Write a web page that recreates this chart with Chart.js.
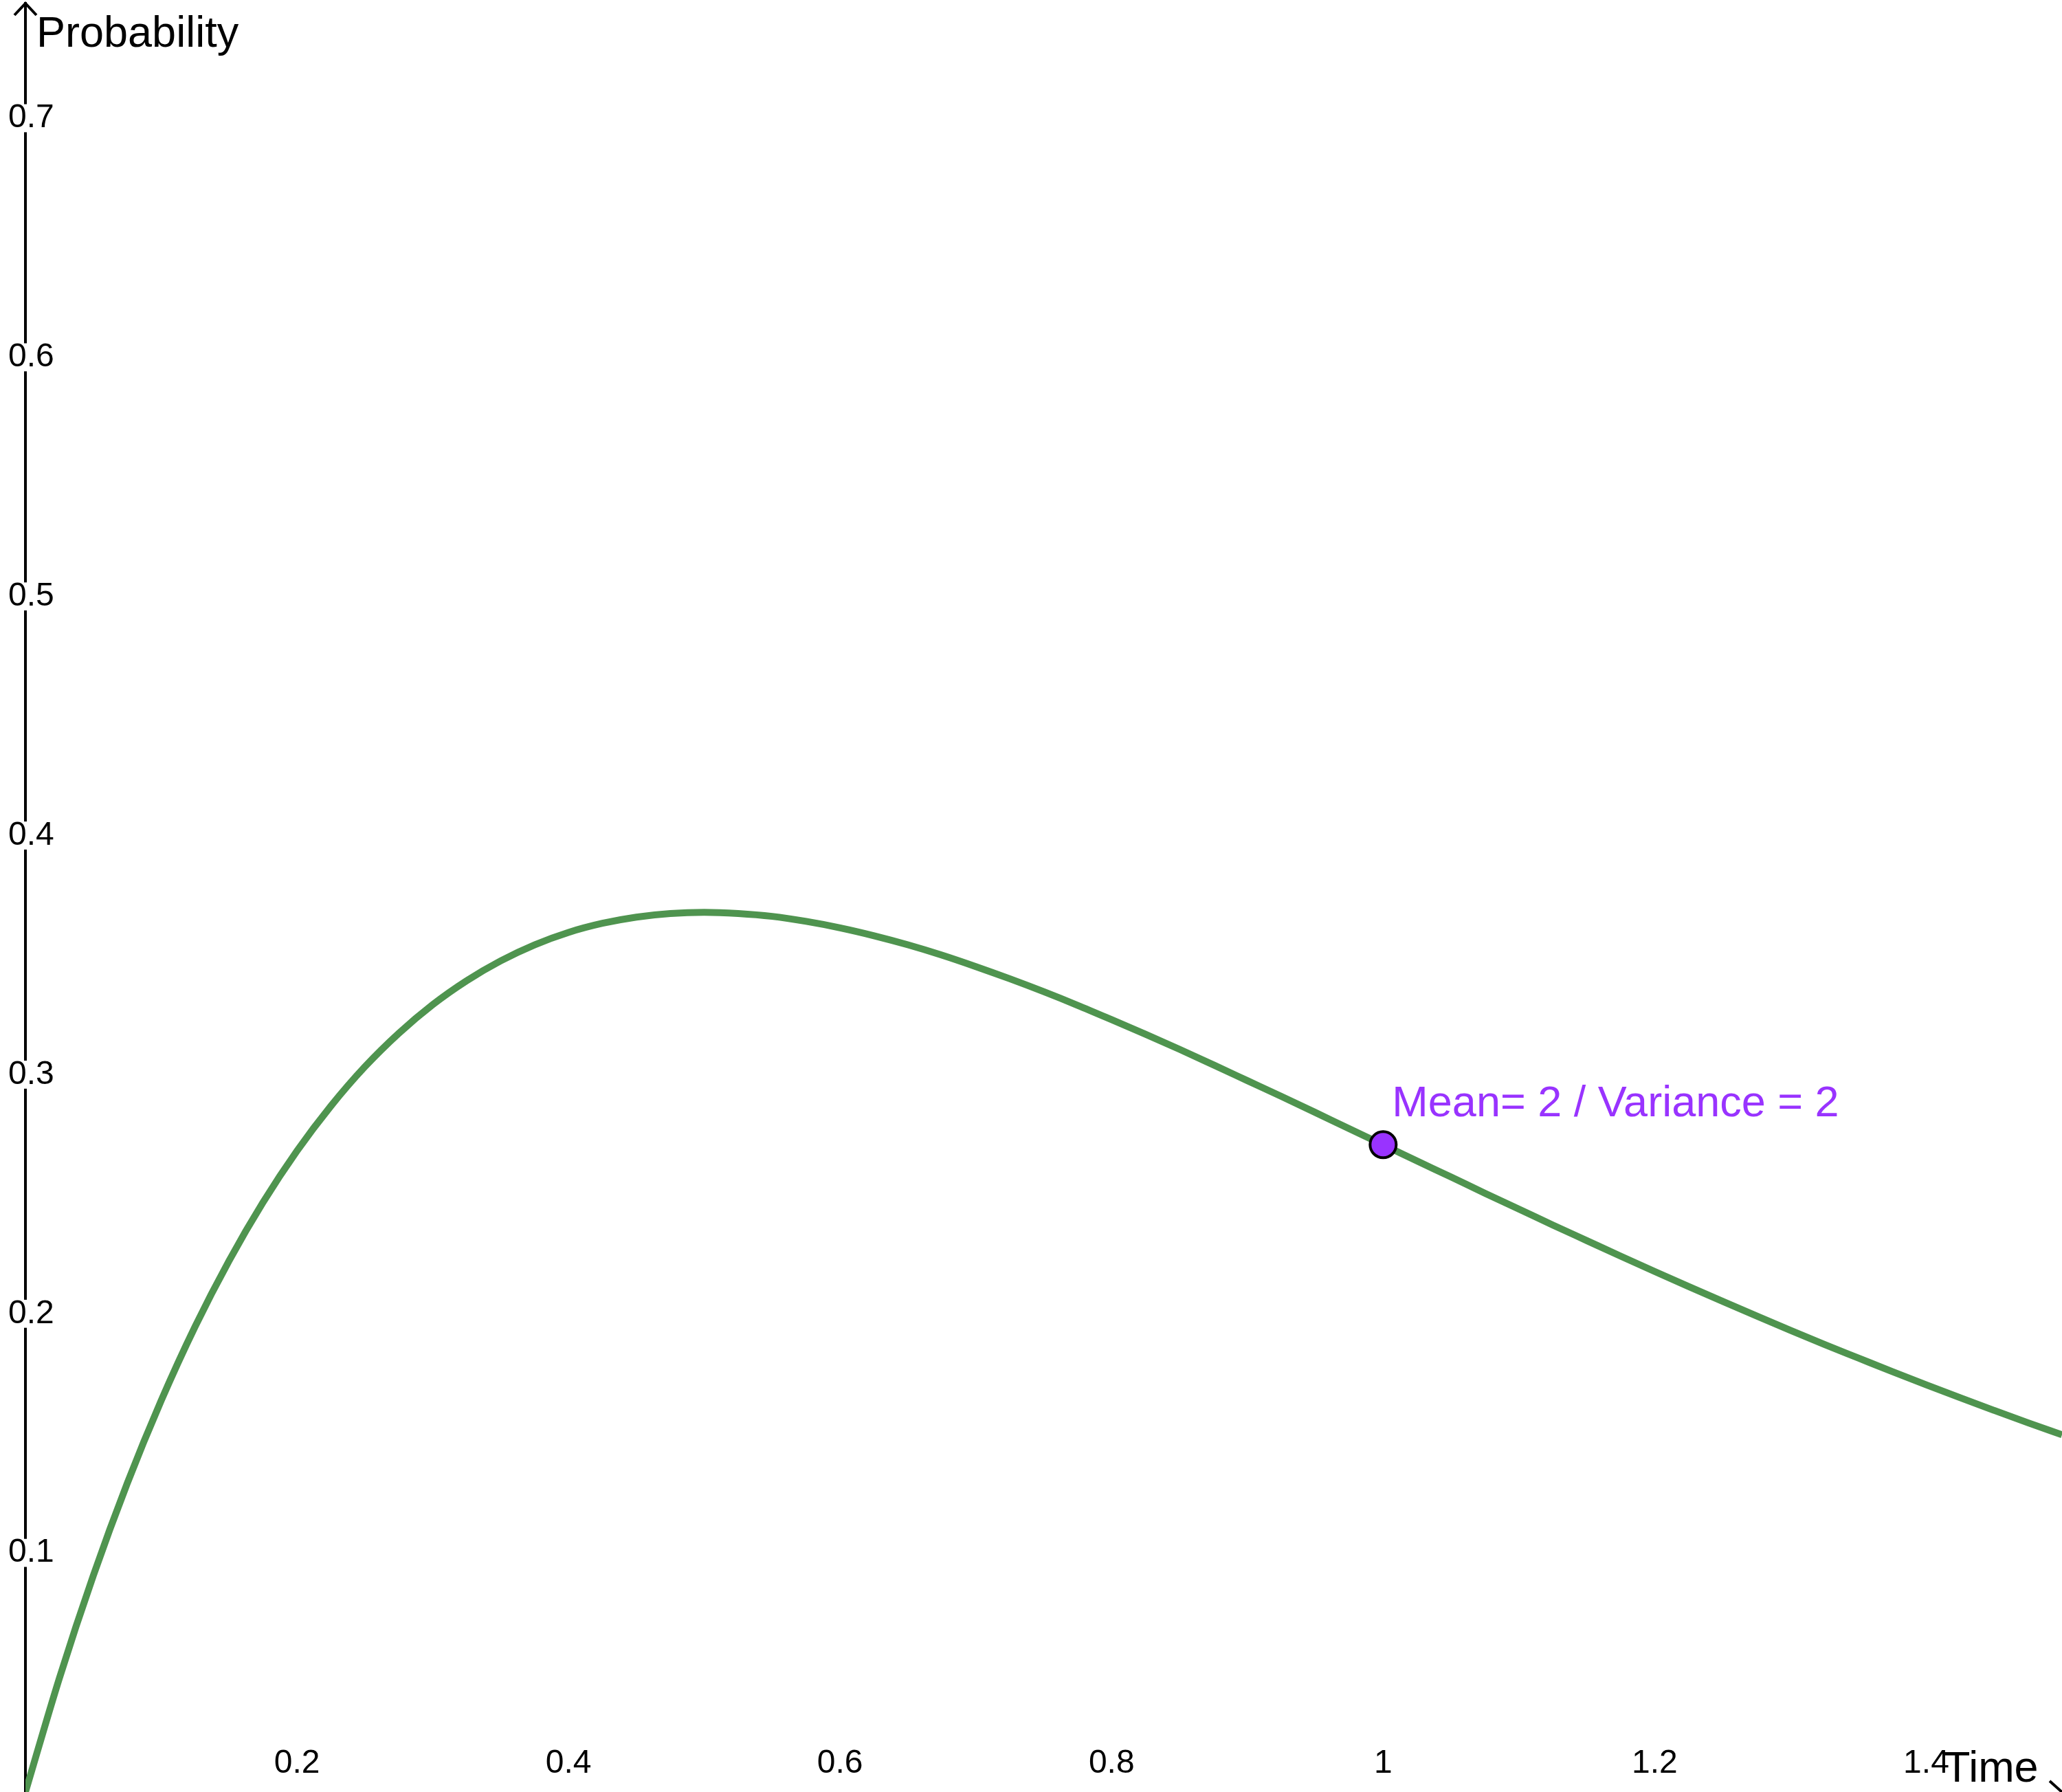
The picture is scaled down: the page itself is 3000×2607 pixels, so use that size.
<!DOCTYPE html>
<html>
<head>
<meta charset="utf-8">
<script src="https://cdn.jsdelivr.net/npm/chart.js@4/dist/chart.umd.min.js"></script>
<style>
  html, body { margin: 0; padding: 0; background: #ffffff; overflow: hidden; }
  canvas { display: block; }
</style>
</head>
<body>
<canvas id="c" width="3000" height="2607"></canvas>
<script>
// ---- data ----
const timeValues = [0, 0.025, 0.05, 0.075, 0.1, 0.125, 0.15, 0.175, 0.2, 0.225, 0.25, 0.275, 0.3, 0.325,
                    0.35, 0.375, 0.4, 0.425, 0.45, 0.475, 0.5, 0.525, 0.55, 0.575, 0.6, 0.625, 0.65, 0.675,
                    0.7, 0.725, 0.75, 0.775, 0.8, 0.825, 0.85, 0.875, 0.9, 0.925, 0.95, 0.975, 1, 1.025,
                    1.05, 1.075, 1.1, 1.125, 1.15, 1.175, 1.2, 1.225, 1.25, 1.275, 1.3, 1.325, 1.35, 1.375,
                    1.4, 1.425, 1.45, 1.475, 1.5];
const probabilityValues = [0, 0.0476, 0.0905, 0.1291, 0.1637, 0.1947, 0.2222, 0.2466, 0.2681, 0.2869,
                           0.3033, 0.3173, 0.3293, 0.3393, 0.3476, 0.3543, 0.3595, 0.3633, 0.3659, 0.3674,
                           0.3679, 0.3674, 0.3662, 0.3641, 0.3614, 0.3581, 0.3543, 0.3500, 0.3452, 0.3401,
                           0.3347, 0.3290, 0.3230, 0.3169, 0.3106, 0.3041, 0.2975, 0.2909, 0.2842, 0.2774,
                           0.2707, 0.2639, 0.2572, 0.2504, 0.2438, 0.2371, 0.2306, 0.2241, 0.2177, 0.2114,
                           0.2052, 0.1991, 0.1931, 0.1872, 0.1815, 0.1758, 0.1703, 0.1649, 0.1596, 0.1544,
                           0.1494];
const markerTime = [1];
const markerProbability = [0.2707];
const markerLabel = 'Mean= 2 / Variance = 2';
const xTickValues = [0.2, 0.4, 0.6, 0.8, 1, 1.2, 1.4];
const yTickValues = [0.1, 0.2, 0.3, 0.4, 0.5, 0.6, 0.7];
const xAxisTitle = 'Time';
const yAxisTitle = 'Probability';

const FONT = '"Liberation Sans", Arial, sans-serif';

const curvePoints = timeValues.map((t, i) => ({ x: t, y: probabilityValues[i] }));
const markerPoints = markerTime.map((t, i) => ({ x: t, y: markerProbability[i] }));

function noPad(s) {
  s.paddingTop = 0; s.paddingBottom = 0; s.paddingLeft = 0; s.paddingRight = 0;
}

const decor = {
  id: 'decor',
  afterDraw(chart) {
    const ctx = chart.ctx;
    const xs = chart.scales.x, ys = chart.scales.y;
    const ax = ys.right;
    const top = chart.chartArea.top;
    const bx = xs.right, by = ys.getPixelForValue(0);
    ctx.save();
    ctx.strokeStyle = '#000000';
    ctx.lineWidth = 4;
    // y axis arrow head
    ctx.beginPath();
    ctx.moveTo(ax - 16, top + 17);
    ctx.lineTo(ax, top);
    ctx.lineTo(ax + 16, top + 17);
    ctx.stroke();
    // x axis arrow head (partly outside)
    ctx.beginPath();
    ctx.moveTo(bx - 18, by - 16);
    ctx.lineTo(bx + 1, by + 1);
    ctx.stroke();
    // axis titles
    ctx.fillStyle = '#000000';
    ctx.font = '63px ' + FONT;
    ctx.textAlign = 'left';
    ctx.textBaseline = 'alphabetic';
    ctx.fillText(yAxisTitle, ax + 16, top + 63);
    ctx.fillText(xAxisTitle, bx - 172, by - 15);
    // marker label
    const p = chart.getDatasetMeta(0).data[0];
    ctx.fillStyle = '#9933ff';
    ctx.fillText(markerLabel, p.x + 13, p.y - 41);
    ctx.restore();
  }
};

new Chart(document.getElementById('c'), {
  type: 'scatter',
  data: {
    datasets: [
      {
        data: markerPoints,
        pointRadius: 19,
        pointHoverRadius: 19,
        pointBorderWidth: 4,
        pointBackgroundColor: '#9933ff',
        pointBorderColor: '#000000',
        showLine: false,
        clip: false
      },
      {
        data: curvePoints,
        showLine: true,
        borderColor: '#4f944f',
        borderWidth: 10,
        pointRadius: 0,
        pointHoverRadius: 0,
        cubicInterpolationMode: 'monotone',
        fill: false
      }
    ]
  },
  options: {
    responsive: false,
    devicePixelRatio: 1,
    animation: false,
    events: [],
    layout: { autoPadding: false, padding: { left: 12, right: 0, top: 5, bottom: 0 } },
    plugins: { legend: { display: false }, tooltip: { enabled: false } },
    scales: {
      x: {
        type: 'linear',
        position: 'bottom',
        min: 0,
        max: 1.5,
        afterBuildTicks: (s) => { s.ticks = xTickValues.map(v => ({ value: v })); },
        afterFit: (s) => { s.height = 0; noPad(s); },
        grid: { display: false, drawTicks: false },
        border: { display: false },
        ticks: {
          autoSkip: false,
          mirror: true,
          maxRotation: 0,
          minRotation: 0,
          padding: 21,
          color: '#000000',
          font: { family: FONT, size: 48, lineHeight: 0.85 },
          callback: (v) => String(v)
        }
      },
      y: {
        type: 'linear',
        position: 'left',
        min: 0,
        max: 0.748,
        afterBuildTicks: (s) => { s.ticks = yTickValues.map(v => ({ value: v })); },
        afterFit: (s) => { s.width = 25; noPad(s); },
        grid: { display: false, drawTicks: false },
        border: { display: true, color: '#000000', width: 4 },
        ticks: {
          autoSkip: false,
          mirror: true,
          padding: -25,
          color: '#000000',
          font: { family: FONT, size: 48, lineHeight: 0.85 },
          showLabelBackdrop: true,
          backdropColor: '#ffffff',
          backdropPadding: 0,
          callback: (v) => String(v)
        }
      }
    }
  },
  plugins: [decor]
});
</script>
</body>
</html>
